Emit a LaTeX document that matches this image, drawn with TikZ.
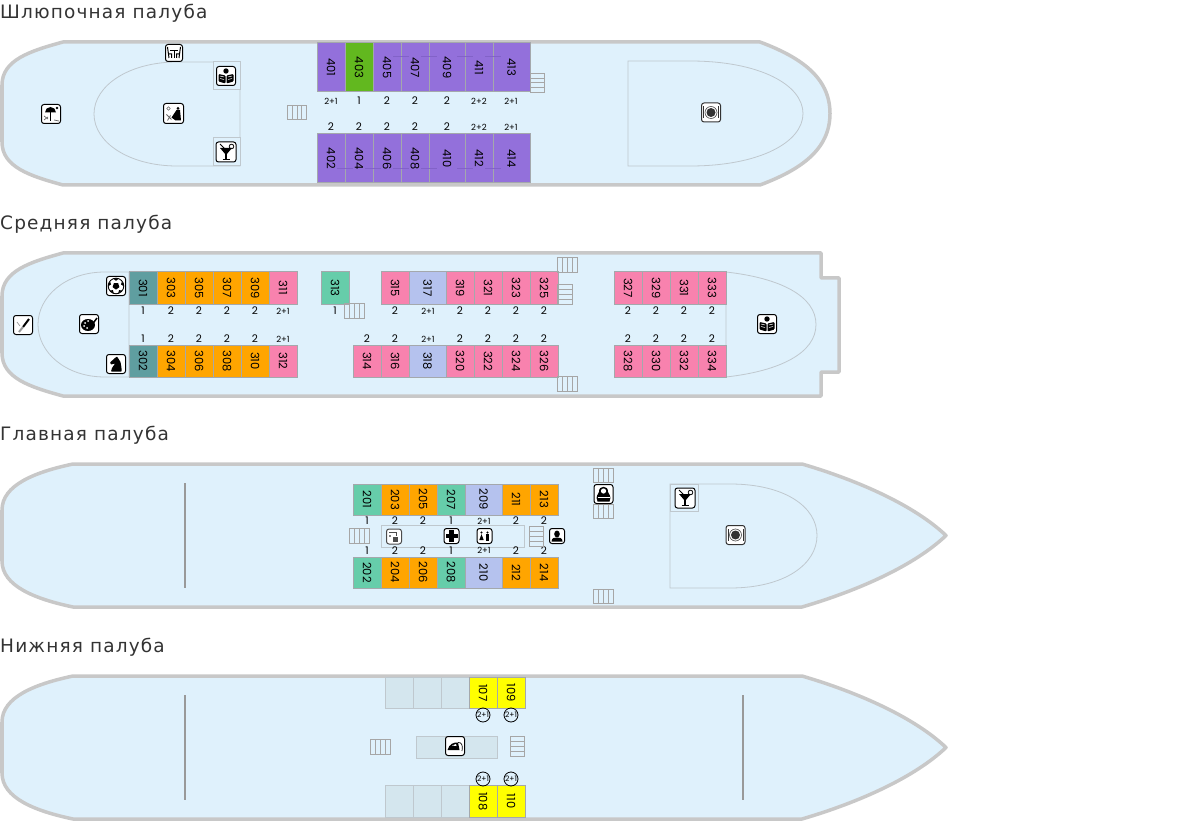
\documentclass[tikz,border=0pt]{standalone}
\usepackage{fontspec}
\setmainfont{Poppins}
\newfontfamily\deckfont[LetterSpace=6.3]{DejaVu Sans}
\usepackage{tikz}

\definecolor{hullgray}{HTML}{C8C8C8}
\definecolor{hullblue}{HTML}{DFF1FC}
\definecolor{innerline}{HTML}{BFC8CE}
\definecolor{boxfill}{HTML}{D4E6EE}
\definecolor{cabinline}{HTML}{A4A8AC}
\definecolor{lux}{HTML}{9370DB}
\definecolor{luxline}{HTML}{8262C8}
\definecolor{single}{HTML}{62B81F}
\definecolor{teal}{HTML}{5F9EA0}
\definecolor{amber}{HTML}{FFA500}
\definecolor{rose}{HTML}{F882AE}
\definecolor{mint}{HTML}{66CDAA}
\definecolor{lavender}{HTML}{B5C2EE}
\definecolor{lemon}{HTML}{FFFF00}

\tikzset{
    decktitle/.style={anchor=west,inner sep=0pt,font=\deckfont\fontsize{18.5}{20}\selectfont,text=black!80},
    hull/.style={draw=hullgray,line width=3.5pt,fill=hullblue,line join=round},
    inner/.style={draw=innerline,line width=0.8pt},
    infobox/.style={draw=innerline,line width=1pt,fill=hullblue},
    sparebox/.style={draw=innerline,line width=1pt,fill=boxfill},
    cabin/.style={draw=cabinline,line width=1pt},
    cabinnum/.style={rotate=-90,inner sep=0pt,font=\fontsize{11.5}{11.5}\selectfont},
    capnum/.style={inner sep=0pt,font=\fontsize{10.5}{10.5}\selectfont},
    capsmall/.style={inner sep=0pt,font=\fontsize{8.5}{8.5}\selectfont},
    capring/.style={draw=black,circle,inner sep=0pt,minimum size=14pt,line width=0.8pt,font=\fontsize{7.5}{8}\selectfont},
    wall/.style={draw=black!40,line width=2pt},
    iconframe/.style={draw=black,line width=1pt,fill=white,rounded corners=2.5pt},
    stair/.style={draw=black!35,line width=1pt},
    pics/stairsv/.style={code={
        \draw[stair] (-9.7,-7.2) rectangle (9.7,7.2);
        \draw[stair] (-4.8,-7.2) -- (-4.8,7.2) (0,-7.2) -- (0,7.2) (4.8,-7.2) -- (4.8,7.2);
    }},
    pics/stairsh/.style={code={
        \draw[stair] (-7.2,-9.7) rectangle (7.2,9.7);
        \draw[stair] (-7.2,-4.8) -- (7.2,-4.8) (-7.2,0) -- (7.2,0) (-7.2,4.8) -- (7.2,4.8);
    }},
    pics/bookicon/.style={code={
        \draw[iconframe] (-9.5,-9.5) rectangle (9.5,9.5);
        \fill (0,-5) circle (2.7);
        \fill[rounded corners=1pt] (-7.5,-2) -- (-0.5,-0.5) -- (-0.5,7.5) -- (-7.5,5.5) -- cycle;
        \fill[rounded corners=1pt] (7.5,-2) -- (0.5,-0.5) -- (0.5,7.5) -- (7.5,5.5) -- cycle;
        \draw[white,line width=0.5pt] (-6,0) -- (-2,1) (-6,2.5) -- (-2,3.5) (6,0) -- (2,1) (6,2.5) -- (2,3.5);
    }},
    pics/cocktailicon/.style={code={
        \draw[iconframe] (-10,-10) rectangle (10,10);
        \fill (-6,-4) -- (6,-4) -- (0,3) -- cycle;
        \draw[line width=1.2pt] (0,2) -- (0,7.5) (-3.5,7.5) -- (3.5,7.5);
        \draw[line width=0.8pt] (-1,-3) -- (-6,-8);
        \draw[line width=0.8pt] (5.5,-5.5) circle (2.3);
    }},
    pics/tableicon/.style={code={
        \draw[iconframe] (-8.5,-8.5) rectangle (8.5,8.5);
        \draw[line width=1pt] (-4,-2.5) -- (4,-2.5) (0,-2.5) -- (0,5);
        \draw[line width=1pt] (-6.5,-6) -- (-5,5) (-5.5,1) -- (-2.5,1) -- (-2.5,5);
        \draw[line width=1pt] (6.5,-6) -- (5,5) (5.5,1) -- (2.5,1) -- (2.5,5);
    }},
    pics/loungeicon/.style={code={
        \draw[iconframe] (-10,-10) rectangle (10,10);
        \draw[black!60,line width=0.6pt] (-5,-5) circle (1.7);
        \fill (4.5,-5) circle (1.5);
        \fill (3,-3.5) -- (6.5,-3.5) -- (7.5,7) -- (2,7) -- (-2,4) -- (0,1) -- cycle;
        \draw[black!60,line width=0.8pt] (-7,1) -- (-2,6) (-6,7) -- (-3,2);
    }},
    pics/beachicon/.style={code={
        \draw[iconframe] (-9.5,-9.5) rectangle (9.5,9.5);
        \fill (-6,-1.5) arc (180:360:5.5) -- cycle;
        \draw[line width=0.8pt] (-0.5,-1.5) -- (-0.5,7);
        \fill (6,-6) circle (1.3);
        \draw[black!60,line width=0.7pt] (-7,2) -- (-3,5) (-7,6) -- (-3,3) (3,6) -- (8,7);
    }},
    pics/dineicon/.style={code={
        \draw[iconframe,draw=black!80] (-9.5,-9.5) rectangle (9.5,9.5);
        \fill[black!80] (0,0) circle (4.5);
        \draw[black!70,line width=0.6pt] (0,0) circle (6);
        \draw[black!80,line width=1pt] (-7.5,-6) -- (-7.5,6) (7.5,-6) -- (7.5,6);
    }},
    pics/pencilicon/.style={code={
        \draw[iconframe] (-9.5,-9.5) rectangle (9.5,9.5);
        \draw[line width=2pt] (6,-6) -- (0,2);
        \draw[black!40,line width=2pt] (0,2) -- (-4,7);
        \draw[black!40,line width=0.7pt] (-6,-3) -- (-3,1);
    }},
    pics/paletteicon/.style={code={
        \draw[iconframe] (-9.5,-9.5) rectangle (9.5,9.5);
        \fill (-1,1) ellipse (7 and 6);
        \foreach \dotx/\doty in {-4/-1,-1/-3,-5/2,-2/4}{
            \fill[white] (\dotx,\doty) circle (1);
        }
        \draw[line width=1.5pt] (2,2) -- (8,-6);
    }},
    pics/ballicon/.style={code={
        \draw[iconframe] (-9.5,-9.5) rectangle (9.5,9.5);
        \draw[line width=0.9pt] (0,0) circle (7.8);
        \fill (90:3.6) -- (162:3.6) -- (234:3.6) -- (306:3.6) -- (18:3.6) -- cycle;
        \foreach \ang in {54,126,198,270,342}{
            \fill (\ang-20:7.8) -- (\ang+20:7.8) -- (\ang:5.2) -- cycle;
        }
    }},
    pics/knighticon/.style={code={
        \draw[iconframe] (-9.5,-9.5) rectangle (9.5,9.5);
        \fill[rounded corners=0.5pt] (-5,7.5) -- (5.5,7.5) -- (5.5,4) -- (4.5,-2) -- (1,-7.5) -- (-1,-6) -- (-6,-1.5) -- (-5,0.5) -- (-1,-0.5) -- (-4,4) -- cycle;
    }},
    pics/dollicon/.style={code={
        \draw[iconframe] (-9.5,-9.5) rectangle (9.5,9.5);
        \fill (-6,7.5) .. controls (-8.5,2) and (-5,0) .. (-4.5,-2) .. controls (-5,-9) and (5,-9) .. (4.5,-2) .. controls (5,0) and (8.5,2) .. (6,7.5) -- cycle;
        \fill[white] (0,-3) circle (2.6);
        \fill[white] (-6,3) -- (6,3) -- (6,4) -- (-6,4) -- cycle;
    }},
    pics/crossicon/.style={code={
        \draw[iconframe] (-7.5,-7.5) rectangle (7.5,7.5);
        \fill (-2.2,-6) rectangle (2.2,6);
        \fill (-6,-2.2) rectangle (6,2.2);
    }},
    pics/wcicon/.style={code={
        \draw[iconframe] (-7.5,-7.5) rectangle (7.5,7.5);
        \fill (-3,-3.5) circle (1.2) (3,-3.5) circle (1.2);
        \fill (-3,-1.8) -- (-0.8,4) -- (-5.2,4) -- cycle;
        \fill (1.5,-1.8) rectangle (4.5,4.8);
    }},
    pics/personicon/.style={code={
        \draw[iconframe] (-7.5,-7.5) rectangle (7.5,7.5);
        \fill (0,-2) ellipse (2.8 and 3.4);
        \fill (-5.5,5.5) .. controls (-5.5,1.5) and (-2,1.5) .. (0,1.5) .. controls (2,1.5) and (5.5,1.5) .. (5.5,5.5) -- cycle;
    }},
    pics/washicon/.style={code={
        \draw[iconframe,draw=black!70] (-7.5,-7.5) rectangle (7.5,7.5);
        \draw[black!70,line width=0.7pt] (-5,-4.5) -- (2,-4.5) -- (2,-1);
        \fill[black!70] (-1,0) rectangle (4,5);
        \fill[black!50] (-5,-2) rectangle (-3,0);
    }},
    pics/ironicon/.style={code={
        \draw[iconframe] (-9.5,-9.5) rectangle (9.5,9.5);
        \fill (-7.5,4) .. controls (-6,-2) and (-1,-4) .. (3,-3.5) -- (4.5,4) -- cycle;
        \fill[white] (-3,-0.5) -- (1,-2) -- (1.5,0) -- cycle;
        \draw[line width=0.7pt] (3,-3.5) .. controls (7,-4) and (8,0) .. (7,5);
    }},
}

\begin{document}
\begin{tikzpicture}[x=1pt,y=-1pt]
    \useasboundingbox (0,0) rectangle (1200,821);

    \node[decktitle] (deckfour) at (0,13.5) {Шлюпочная палуба};
    \node[decktitle] (deckthree) at (0,224.5) {Средняя палуба};
    \node[decktitle] (decktwo) at (0,435.5) {Главная палуба};
    \node[decktitle] (deckone) at (0,647.5) {Нижняя палуба};

    \draw[hull] (63,42) .. controls (30,51) and (2,60) .. (2,85) -- (2,142) .. controls (2,167) and (30,176) .. (63,185) -- (760,185) .. controls (800,170) and (830,150) .. (830,113.5) .. controls (830,77) and (800,57) .. (760,42) -- cycle;
    \draw[hull] (63,253) .. controls (30,262) and (2,271) .. (2,296) -- (2,353) .. controls (2,378) and (30,387) .. (63,396) -- (821,396) -- (821,372) -- (839,372) -- (839,278) -- (821,278) -- (821,253) -- cycle;
    \draw[hull] (73,464) .. controls (35,472) and (2,485) .. (2,510) -- (2,561) .. controls (2,586) and (35,599) .. (73,607) -- (802,607) .. controls (860,590) and (915,565) .. (946,535.5) .. controls (915,506) and (860,481) .. (802,464) -- cycle;
    \draw[hull] (73,676) .. controls (35,684) and (2,697) .. (2,722) -- (2,773) .. controls (2,798) and (35,811) .. (73,819) -- (802,819) .. controls (860,802) and (915,777) .. (946,747.5) .. controls (915,718) and (860,693) .. (802,676) -- cycle;

    \draw[inner] (240,62) -- (177,62) .. controls (130,62) and (94,85) .. (94,114) .. controls (94,143) and (130,166) .. (177,166) -- (240,166) -- cycle;
    \draw[inner] (628,61) -- (690,61) .. controls (760,61) and (803,85) .. (803,113.5) .. controls (803,142) and (760,166) .. (690,166) -- (628,166) -- cycle;
    \draw[inner] (129,272) -- (105,272) .. controls (65,272) and (38,297) .. (38,324.5) .. controls (38,352) and (65,377) .. (105,377) -- (129,377) -- cycle;
    \draw[inner] (726,272) .. controls (780,278) and (816,296) .. (816,324.5) .. controls (816,353) and (780,371) .. (726,377) -- cycle;
    \draw[inner] (670,484) -- (730,484) .. controls (785,484) and (817,507) .. (817,535.5) .. controls (817,564) and (785,588) .. (730,588) -- (670,588) -- cycle;

    \draw[infobox] (213,62) rectangle (240,89.5);
    \draw[infobox] (213,138) rectangle (240,166);
    \draw[infobox] (670,484) rectangle (698,511.5);
    \draw[infobox] (381.5,525) rectangle (524,547);
    \draw[sparebox] (416.5,736) rectangle (497,758);

    \foreach \num/\xa/\xb/\col in {401/317/345/lux,403/345/373/single,405/373/401/lux,407/401/429/lux,409/429/465/lux,411/465/493/lux,413/493/530/lux}{
        \draw[cabin,fill=\col] (\xa,43) rectangle (\xb,92) node[midway,cabinnum] (c\num) {\num};
    }
    \foreach \num/\xa/\xb in {402/317/345,404/345/373,406/373/401,408/401/429,410/429/465,412/465/493,414/493/530}{
        \draw[cabin,fill=lux] (\xa,134) rectangle (\xb,183) node[midway,cabinnum] (c\num) {\num};
    }
    \foreach \xm in {401,429,465,493}{
        \draw[luxline,line width=0.6pt] (\xm-8,56) -- (\xm+8,56);
    }
    \foreach \xm in {345,373,401,429,465,493}{
        \draw[luxline,line width=0.6pt] (\xm-8,168) -- (\xm+8,168);
    }
    \foreach \num/\xa/\xb/\col in {301/129/157/teal,303/157/185/amber,305/185/213/amber,307/213/241/amber,309/241/269/amber,311/269/297/rose,313/321/349/mint,315/381/409/rose,317/409/446/lavender,319/446/474/rose,321/474/502/rose,323/502/530/rose,325/530/558/rose,327/614/642/rose,329/642/670/rose,331/670/698/rose,333/698/726/rose}{
        \draw[cabin,fill=\col] (\xa,272) rectangle (\xb,304) node[midway,cabinnum] (c\num) {\num};
    }
    \foreach \num/\xa/\xb/\col in {302/129/157/teal,304/157/185/amber,306/185/213/amber,308/213/241/amber,310/241/269/amber,312/269/297/rose,314/353/381/rose,316/381/409/rose,318/409/446/lavender,320/446/474/rose,322/474/502/rose,324/502/530/rose,326/530/558/rose,328/614/642/rose,330/642/670/rose,332/670/698/rose,334/698/726/rose}{
        \draw[cabin,fill=\col] (\xa,345) rectangle (\xb,377) node[midway,cabinnum] (c\num) {\num};
    }
    \foreach \num/\xa/\xb/\col in {201/353/381/mint,203/381/409/amber,205/409/437/amber,207/437/465/mint,209/465/502/lavender,211/502/530/amber,213/530/558/amber}{
        \draw[cabin,fill=\col] (\xa,484) rectangle (\xb,515) node[midway,cabinnum] (c\num) {\num};
    }
    \foreach \num/\xa/\xb/\col in {202/353/381/mint,204/381/409/amber,206/409/437/amber,208/437/465/mint,210/465/502/lavender,212/502/530/amber,214/530/558/amber}{
        \draw[cabin,fill=\col] (\xa,557) rectangle (\xb,588) node[midway,cabinnum] (c\num) {\num};
    }
    \foreach \xa/\xb in {385/413,413/441,441/469}{
        \draw[sparebox] (\xa,677) rectangle (\xb,708.5);
        \draw[sparebox] (\xa,785.5) rectangle (\xb,817);
    }
    \foreach \num/\xa/\xb/\ya/\yb in {107/469/497/677/708.5,109/497/525/677/708.5,108/469/497/785.5/817,110/497/525/785.5/817}{
        \draw[cabin,fill=lemon] (\xa,\ya) rectangle (\xb,\yb) node[midway,cabinnum] (c\num) {\num};
    }

    \foreach \xc/\txt/\sty/\ky in {331/2+1/capsmall/a,359/1/capnum/b,387/2/capnum/c,415/2/capnum/d,447/2/capnum/e,479/2+2/capsmall/f,511/2+1/capsmall/g}{
        \node[\sty] (fourtop\ky) at (\xc,101) {\txt};
    }
    \foreach \xc/\txt/\sty/\ky in {331/2/capnum/a,359/2/capnum/b,387/2/capnum/c,415/2/capnum/d,447/2/capnum/e,479/2+2/capsmall/f,511/2+1/capsmall/g}{
        \node[\sty] (fourbot\ky) at (\xc,127) {\txt};
    }
    \foreach \xc/\txt/\sty/\ky in {143/1/capnum/a,171/2/capnum/b,199/2/capnum/c,227/2/capnum/d,255/2/capnum/e,283/2+1/capsmall/f,335/1/capnum/g,395/2/capnum/h,428/2+1/capsmall/i,460/2/capnum/j,488/2/capnum/k,516/2/capnum/l,544/2/capnum/m,628/2/capnum/n,656/2/capnum/o,684/2/capnum/p,712/2/capnum/q}{
        \node[\sty] (threetop\ky) at (\xc,311) {\txt};
    }
    \foreach \xc/\txt/\sty/\ky in {143/1/capnum/a,171/2/capnum/b,199/2/capnum/c,227/2/capnum/d,255/2/capnum/e,283/2+1/capsmall/f,367/2/capnum/g,395/2/capnum/h,428/2+1/capsmall/i,460/2/capnum/j,488/2/capnum/k,516/2/capnum/l,544/2/capnum/m,628/2/capnum/n,656/2/capnum/o,684/2/capnum/p,712/2/capnum/q}{
        \node[\sty] (threebot\ky) at (\xc,339) {\txt};
    }
    \foreach \xc/\txt/\sty/\ky in {367/1/capnum/a,395/2/capnum/b,423/2/capnum/c,451/1/capnum/d,484/2+1/capsmall/e,516/2/capnum/f,544/2/capnum/g}{
        \node[\sty] (twotop\ky) at (\xc,521) {\txt};
        \node[\sty] (twobot\ky) at (\xc,550.5) {\txt};
    }
    \foreach \xc/\yc/\ky in {483/715/a,511/715/b,483/779/c,511/779/d}{
        \node[capring] (ring\ky) at (\xc,\yc) {2+1};
    }

    \draw[wall] (185,483) -- (185,588);
    \draw[wall] (185,695) -- (185,800);
    \draw[wall] (743,695) -- (743,800);

    \pic at (297,112.5) {stairsv};
    \pic at (537.5,83) {stairsh};
    \pic at (354.5,311) {stairsv};
    \pic at (567.5,265) {stairsv};
    \pic at (565,294.5) {stairsh};
    \pic at (567.5,384) {stairsv};
    \pic at (603.5,475.5) {stairsv};
    \pic at (603.5,511.5) {stairsv};
    \pic at (603.5,596.5) {stairsv};
    \pic at (359.5,536) {stairsv};
    \pic at (536.5,536.5) {stairsh};
    \pic at (380.5,747) {stairsv};
    \pic at (517.5,746.5) {stairsh};

    \pic at (226,76) {bookicon};
    \pic at (226,152) {cocktailicon};
    \pic at (174,53) {tableicon};
    \pic at (173.5,113.5) {loungeicon};
    \pic at (51,114) {beachicon};
    \pic at (711,112.5) {dineicon};
    \pic at (23,325) {pencilicon};
    \pic at (89,324) {paletteicon};
    \pic at (116,286) {ballicon};
    \pic at (116,364) {knighticon};
    \pic at (767,324) {bookicon};
    \pic at (603.5,494) {dollicon};
    \pic at (685,498) {cocktailicon};
    \pic at (735.5,535) {dineicon};
    \pic at (394,536.5) {washicon};
    \pic at (451.5,536) {crossicon};
    \pic at (484.5,536) {wcicon};
    \pic at (557,536) {personicon};
    \pic at (455,746) {ironicon};
\end{tikzpicture}
\end{document}
